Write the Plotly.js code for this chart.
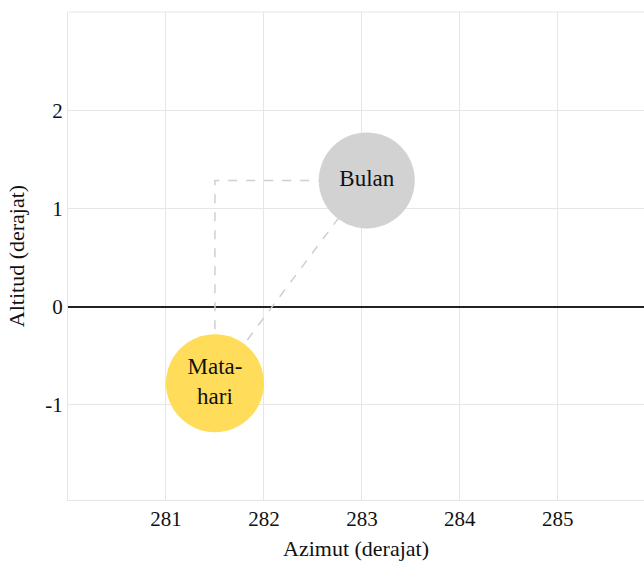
<!DOCTYPE html>
<html>
<head>
<meta charset="utf-8">
<script src="https://cdn.plot.ly/plotly-3.0.1.min.js"></script>
<style>html,body{margin:0;padding:0;background:#fff;}#chart{width:644px;height:563px;}</style>
</head>
<body>
<div id="chart"></div>
<script>
const bodies = ["Mata-<br>hari", "Bulan"];
const azimuth = [281.5, 283.05];
const altitude = [-0.78, 1.285];
const bodyColors = ["#FFDC5A", "#D2D2D2"];
const bodySizes = [98, 96];
const xTicks = [281, 282, 283, 284, 285];
const yTicks = [-1, 0, 1, 2];

const fontFam = "'Liberation Serif', 'Times New Roman', serif";

const traces = [
  {
    x: [azimuth[0], azimuth[0], azimuth[1]],
    y: [altitude[0], altitude[1], altitude[1]],
    mode: "lines",
    line: {color: "#cfcfcf", width: 1.5, dash: "dash"},
    hoverinfo: "skip",
    showlegend: false
  },
  {
    x: [azimuth[0], azimuth[1]],
    y: [altitude[0], altitude[1]],
    mode: "lines",
    line: {color: "#cfcfcf", width: 1.5, dash: "dash"},
    hoverinfo: "skip",
    showlegend: false
  },
  {
    x: azimuth,
    y: altitude,
    mode: "markers+text",
    text: bodies,
    textposition: "middle center",
    textfont: {family: fontFam, size: 23, color: "#111"},
    marker: {color: bodyColors, size: bodySizes, line: {width: 0}, opacity: 1},
    showlegend: false
  }
];

const layout = {
  width: 644,
  height: 563,
  margin: {l: 68, r: 0, t: 12, b: 63},
  paper_bgcolor: "#fff",
  plot_bgcolor: "#fff",
  font: {family: fontFam, size: 21, color: "#111"},
  xaxis: {
    range: [280, 285.88],
    tickvals: xTicks,
    ticktext: xTicks.map(String),
    showgrid: true,
    gridcolor: "#e6e6e6",
    gridwidth: 1,
    zeroline: false,
    showline: true,
    linecolor: "#e6e6e6",
    ticks: "",
    tickfont: {family: fontFam, size: 21},
    title: {text: "Azimut (derajat)", font: {family: fontFam, size: 22}, standoff: 10}
  },
  yaxis: {
    range: [-1.97, 3.0],
    tickvals: yTicks,
    ticktext: yTicks.map(String),
    showgrid: true,
    gridcolor: "#e6e6e6",
    gridwidth: 1,
    zeroline: true,
    zerolinecolor: "#222",
    zerolinewidth: 2,
    showline: true,
    linecolor: "#e6e6e6",
    ticks: "",
    tickfont: {family: fontFam, size: 21},
    title: {text: "Altitud (derajat)", font: {family: fontFam, size: 22}, standoff: 14}
  },
  shapes: [
    {type: "line", xref: "paper", yref: "paper", x0: 0, x1: 1, y0: 1, y1: 1, line: {color: "#e6e6e6", width: 1}}
  ]
};

Plotly.newPlot("chart", traces, layout, {displayModeBar: false, staticPlot: true});
</script>
</body>
</html>
